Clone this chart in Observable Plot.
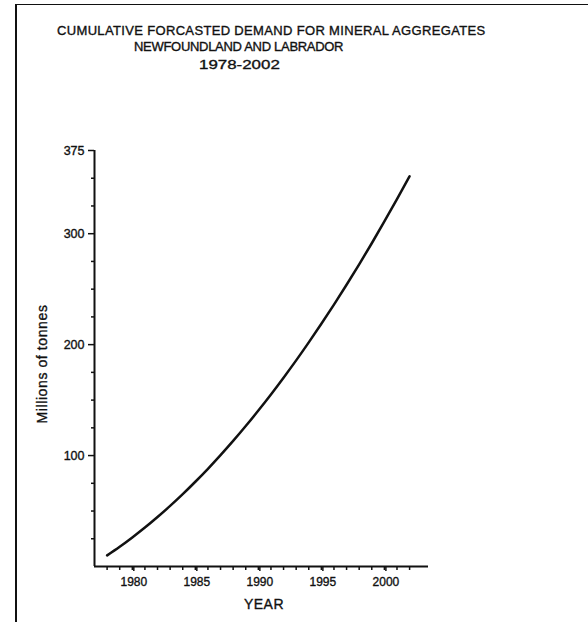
<!DOCTYPE html>
<html>
<head>
<meta charset="utf-8">
<script src="https://cdn.jsdelivr.net/npm/d3@7"></script>
<script src="https://cdn.jsdelivr.net/npm/@observablehq/plot@0.6"></script>
<style>
  html, body { margin: 0; padding: 0; background: #fff; }
  #wrap { position: relative; width: 588px; height: 622px; overflow: hidden; font-family: "Liberation Sans", Arial, sans-serif; color: #111; }
  #frame { position: absolute; left: 15px; top: 4px; width: 600px; height: 700px; border-top: 1.5px solid #111; border-left: 2px solid #111; }
  .t { position: absolute; white-space: nowrap; font-size: 13px; line-height: 1; -webkit-text-stroke: 0.35px #111; }
  #plot { position: absolute; left: 0; top: 0; }
  #plot svg text { stroke: #111; stroke-width: 0.35px; }
  #ylab { position: absolute; left: 42px; top: 364px; transform: translate(-50%, -50%) rotate(-90deg); font-size: 14px; letter-spacing: 0.6px; white-space: nowrap; -webkit-text-stroke: 0.35px #111; }
  #xlab { position: absolute; left: 264px; top: 596px; transform: translateX(-50%); font-size: 14px; letter-spacing: 0.5px; -webkit-text-stroke: 0.35px #111; }
</style>
</head>
<body>
<div id="wrap">
  <div id="frame"></div>
  <div class="t" id="t1" style="left:57px; top:24px; letter-spacing:0.34px;">CUMULATIVE FORCASTED DEMAND FOR MINERAL AGGREGATES</div>
  <div class="t" id="t2" style="left:134px; top:40px; letter-spacing:-0.3px;">NEWFOUNDLAND AND LABRADOR</div>
  <div class="t" id="t3" style="left:199px; top:58px; transform: scaleX(1.3); transform-origin: left center;">1978-2002</div>
  <div id="plot"></div>
  <div id="ylab">Millions of tonnes</div>
  <div id="xlab">YEAR</div>
</div>
<script>
const years = [1978,1979,1980,1981,1982,1983,1984,1985,1986,1987,1988,1989,1990,1991,1992,1993,1994,1995,1996,1997,1998,1999,2000,2001,2002];
const demand = [10,17.8,26.2,35.1,44.6,54.6,65.2,76.4,88.1,100.4,113.2,126.6,140.6,155.1,170.2,185.8,202,218.8,236.1,254,272.4,291.4,311,331.1,351.8];
const xMajor = [1980,1985,1990,1995,2000];
const xMinor = years;
const yMajor = [100,200,300,375];
const yMinor = [25,50,75,125,150,175,225,250,275,325,350];
const xDomain = [1977,2003.5];
const yDomain = [0,375];

const data = years.map((y,i) => ({year: y, value: demand[i]}));

const chart = Plot.plot({
  width: 588,
  height: 622,
  marginLeft: 94,
  marginRight: 160,
  marginTop: 150,
  marginBottom: 56,
  style: {fontFamily: "'Liberation Sans', Arial, sans-serif", fontSize: "12px", color: "#111", background: "transparent", overflow: "visible"},
  x: {domain: xDomain, label: null},
  y: {domain: yDomain, label: null},
  marks: [
    Plot.ruleY([yDomain[0]], {stroke: "#111", strokeWidth: 2}),
    Plot.ruleX([xDomain[0]], {stroke: "#111", strokeWidth: 2}),
    Plot.axisX(xMinor, {tickSize: 4, tickFormat: () => "", strokeWidth: 1.5, label: null}),
    Plot.axisX(xMajor, {tickSize: 5, tickPadding: 6, dx: 1.5, tickFormat: d => String(d), strokeWidth: 1.5, label: null, fontSize: 12}),
    Plot.axisY(yMinor, {tickSize: 3, tickFormat: () => "", strokeWidth: 1.5, label: null}),
    Plot.axisY(yMajor, {tickSize: 6, tickPadding: 4, tickFormat: d => String(d), strokeWidth: 1.5, label: null, fontSize: 12.5}),
    Plot.line(data, {x: "year", y: "value", curve: "natural", stroke: "#111", strokeWidth: 2.5})
  ]
});
document.getElementById("plot").appendChild(chart);
</script>
</body>
</html>
